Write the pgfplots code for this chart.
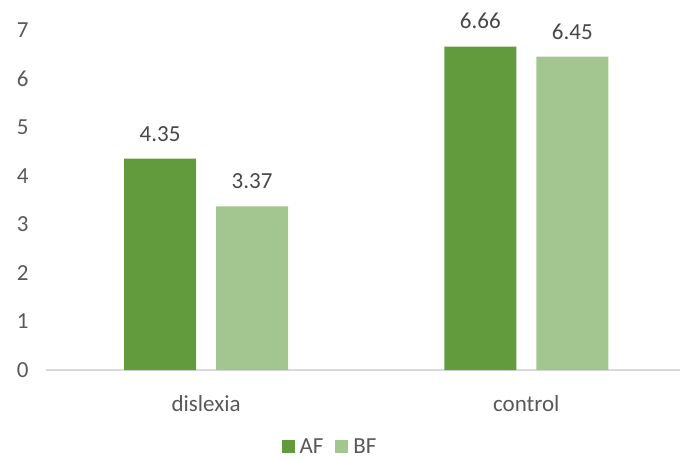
\documentclass[border=0pt]{standalone}
\usepackage{fontspec}
\setmainfont{Carlito}
\usepackage{pgfplots}
\pgfplotsset{compat=1.18}
\definecolor{afgreen}{HTML}{629B3E}
\definecolor{bfgreen}{HTML}{A3C58F}
\definecolor{txtgray}{HTML}{595959}
\definecolor{axgray}{HTML}{D9D9D9}
\begin{document}
\begin{tikzpicture}
\path[use as bounding box] (-46bp,-91bp) rectangle (634bp,370bp);
\begin{axis}[
    scale only axis,
    width=634bp, height=340bp,
    ybar=20bp, bar width=72bp,
    xmin=-0.5, xmax=1.48,
    ymin=0, ymax=7,
    xtick={0,1}, xticklabels={dislexia,control},
    ytick={0,1,...,7},
    major tick length=0pt,
    axis x line*=bottom, axis y line*=left,
    x axis line style={draw=axgray, line width=1.5bp, -},
    y axis line style={draw=none},
    /pgf/number format/assume math mode=true,
    tick label style={font=\fontsize{23bp}{26bp}\selectfont, text=txtgray},
    yticklabel style={xshift=-14bp},
    xticklabel style={yshift=-22bp},
    nodes near coords={\pgfmathprintnumber[fixed,fixed zerofill,precision=2]{\pgfplotspointmeta}},
    nodes near coords style={font=\fontsize{23bp}{26bp}\selectfont, text=txtgray!80!black, yshift=14bp},
    legend style={at={(0.448,-0.225)}, anchor=center, draw=none, fill=none,
        inner sep=1bp,
        legend columns=2, font=\fontsize{23bp}{26bp}\selectfont, text=txtgray,
        /tikz/every even column/.append style={column sep=10bp},
        /tikz/every odd column/.append style={column sep=3bp}},
    legend image code/.code={\fill[#1] (0bp,-6.5bp) rectangle (13bp,6.5bp);},
]
\addplot[draw=none, fill=afgreen] coordinates {(0,4.35) (1,6.66)};
\addplot[draw=none, fill=bfgreen] coordinates {(0,3.37) (1,6.45)};
\legend{AF,BF}
\end{axis}
\end{tikzpicture}
\end{document}
